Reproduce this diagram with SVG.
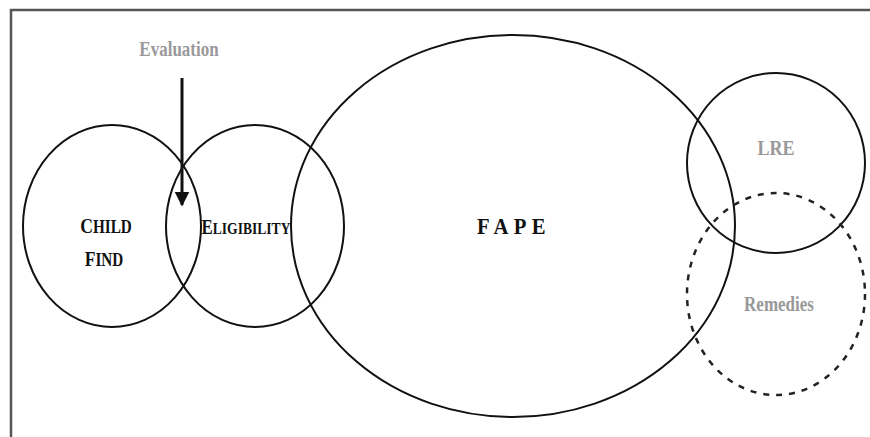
<svg xmlns="http://www.w3.org/2000/svg" width="870" height="437" viewBox="0 0 870 437">
<defs>
<style>
.c{fill:none;stroke:#111;stroke-width:2}
.d{fill:none;stroke:#222;stroke-width:2.5;stroke-dasharray:6 7}
.g{font-family:"Liberation Serif",serif;font-weight:bold;fill:#999;font-size:20px;text-anchor:middle}
.b{font-family:"Liberation Serif",serif;font-weight:bold;fill:#111;text-anchor:middle}
</style>
<marker id="ah" viewBox="0 0 10 10" refX="9" refY="5" markerWidth="5" markerHeight="5" orient="auto" markerUnits="strokeWidth">
<path d="M0,0 L10,5 L0,10 z" fill="#111"/>
</marker>
</defs>
<rect width="870" height="437" fill="#fff"/>
<path d="M11,437 V10 H870" fill="none" stroke="#555" stroke-width="2.5"/>
<g id="childfind">
<ellipse class="c" cx="112" cy="226" rx="89" ry="101"/>
<text class="b" transform="translate(106,233) scale(0.8,1)" font-size="19"><tspan font-size="22">C</tspan>HILD</text>
<text class="b" transform="translate(104,266) scale(0.8,1)" font-size="19"><tspan font-size="22">F</tspan>IND</text>
</g>
<g id="eligibility">
<ellipse class="c" cx="255" cy="226" rx="89" ry="101"/>
<text class="b" transform="translate(246,234) scale(0.8,1)" font-size="17"><tspan font-size="21">E</tspan>LIGIBILITY</text>
</g>
<g id="fape">
<ellipse class="c" cx="513" cy="226" rx="222" ry="191" stroke-width="2.5"/>
<text class="b" transform="translate(514,234) scale(0.9,1)" font-size="23" letter-spacing="6">FAPE</text>
</g>
<g id="lre">
<ellipse class="c" cx="776" cy="163" rx="89" ry="90"/>
<text class="g" transform="translate(776,155) scale(0.9,1)">LRE</text>
</g>
<g id="remedies">
<ellipse class="d" cx="776" cy="294" rx="89" ry="101"/>
<text class="g" transform="translate(779,311) scale(0.85,1)">Remedies</text>
</g>
<g id="evaluation">
<text class="g" transform="translate(179,56) scale(0.85,1)">Evaluation</text>
</g>
<g id="connectors">
<line x1="182" y1="78" x2="182" y2="205" stroke="#111" stroke-width="3" marker-end="url(#ah)"/>
</g>
</svg>
